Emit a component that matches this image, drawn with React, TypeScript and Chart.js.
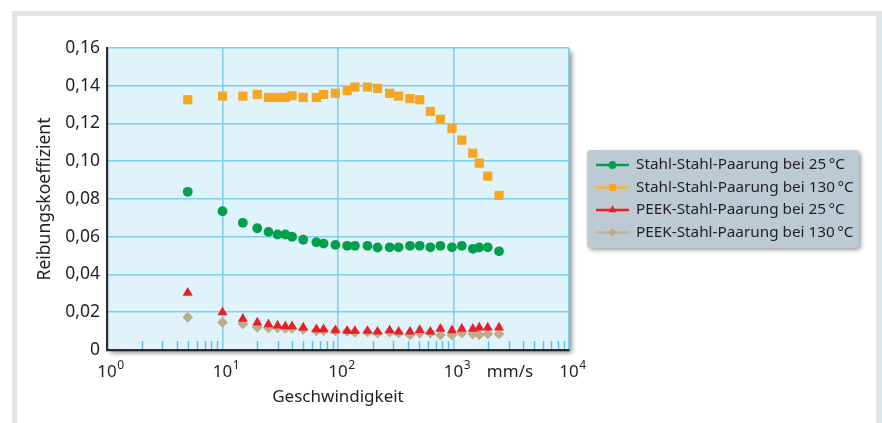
import React, { useEffect, useRef } from 'react';
import { Chart, registerables } from 'chart.js';

Chart.register(...registerables);

// ---------- data ----------
const speeds = [5, 10, 15, 20, 25, 30, 35, 40, 50, 65, 75, 95, 120, 140, 180, 220, 280, 335, 420, 510, 630, 770, 970, 1180, 1470, 1670, 1980, 2480];

const stahl25 = [0.0838, 0.0735, 0.0674, 0.0645, 0.0626, 0.0612, 0.0612, 0.06, 0.0584, 0.0571, 0.0564, 0.0557, 0.0552, 0.0552, 0.0552, 0.0543, 0.0544, 0.0544, 0.0552, 0.0552, 0.0544, 0.0552, 0.0544, 0.0552, 0.0536, 0.0543, 0.0544, 0.0523];

const stahl130 = [0.1326, 0.1345, 0.1345, 0.1354, 0.1338, 0.1338, 0.1338, 0.1347, 0.1338, 0.1338, 0.1354, 0.136, 0.1374, 0.1393, 0.1393, 0.1386, 0.136, 0.1345, 0.1332, 0.1326, 0.1264, 0.1222, 0.1174, 0.1112, 0.1043, 0.099, 0.0921, 0.0819];

const peek25 = [0.0303, 0.02, 0.0165, 0.0145, 0.0136, 0.0129, 0.0125, 0.0125, 0.0119, 0.011, 0.011, 0.0104, 0.0101, 0.0101, 0.0101, 0.0097, 0.0104, 0.0097, 0.0097, 0.0106, 0.0097, 0.0112, 0.0104, 0.0112, 0.0112, 0.0119, 0.0119, 0.0119];

const peek130 = [0.0173, 0.0146, 0.0138, 0.012, 0.0117, 0.0117, 0.0115, 0.0115, 0.0109, 0.0102, 0.0102, 0.0102, 0.0099, 0.0093, 0.0095, 0.009, 0.0095, 0.009, 0.008, 0.009, 0.009, 0.008, 0.008, 0.009, 0.0085, 0.008, 0.0085, 0.0085];

const seriesLabels = [
  'Stahl-Stahl-Paarung bei 25\u2009°C',
  'Stahl-Stahl-Paarung bei 130\u2009°C',
  'PEEK-Stahl-Paarung bei 25\u2009°C',
  'PEEK-Stahl-Paarung bei 130\u2009°C',
];

const xExponents = [0, 1, 2, 3, 4];
const xUnit = 'mm/s';
const xTitle = 'Geschwindigkeit';
const yTitle = 'Reibungskoeffizient';

// ---------- styles ----------
const FONT = '"Noto Sans", "Open Sans", sans-serif';
const TEXT = '#231f20';
const GRID = 'rgb(125,208,242)';
const MINOR = 'rgb(90,192,236)';
const PLOT_BG = 'rgb(224,242,250)';
const AXIS = '#2b2b2b';

const colors = ['rgb(0,160,76)', 'rgb(246,166,35)', 'rgb(232,30,40)', 'rgb(193,170,136)'];
const legendLine = ['rgb(0,160,76)', 'rgb(248,178,60)', 'rgb(232,30,40)', 'rgb(200,178,146)'];
const styles = ['circle', 'rect', 'triangle', 'rectRot'];
const radii = [4.9, 6.5, 5.8, 5.4];

function drawMarker(ctx: CanvasRenderingContext2D, style: string, x: number, y: number, r: number) {
  ctx.beginPath();
  if (style === 'circle') {
    ctx.arc(x, y, r, 0, Math.PI * 2);
  } else if (style === 'rect') {
    const s = r * Math.SQRT1_2;
    ctx.rect(x - s, y - s, 2 * s, 2 * s);
  } else if (style === 'triangle') {
    let a = 0;
    ctx.moveTo(x + Math.sin(a) * r, y - Math.cos(a) * r);
    a += (2 * Math.PI) / 3;
    ctx.lineTo(x + Math.sin(a) * r, y - Math.cos(a) * r);
    a += (2 * Math.PI) / 3;
    ctx.lineTo(x + Math.sin(a) * r, y - Math.cos(a) * r);
    ctx.closePath();
  } else {
    ctx.moveTo(x, y - r);
    ctx.lineTo(x + r, y);
    ctx.lineTo(x, y + r);
    ctx.lineTo(x - r, y);
    ctx.closePath();
  }
  ctx.fill();
}

const decorPlugin = {
  id: 'decor',
  beforeDraw(chart: any) {
    const { ctx, chartArea: a } = chart;
    ctx.save();
    ctx.fillStyle = '#ffffff';
    ctx.fillRect(0, 0, chart.width, chart.height);
    // outer frame (open at the bottom)
    ctx.fillStyle = 'rgb(221,228,234)';
    ctx.fillRect(12, 11, 870, 5);
    ctx.fillRect(12, 11, 5, 430);
    ctx.fillRect(876, 11, 6, 430);
    // plot background with drop shadow
    ctx.shadowColor = 'rgba(0,0,0,0.5)';
    ctx.shadowBlur = 5;
    ctx.shadowOffsetX = 2.5;
    ctx.shadowOffsetY = 2.5;
    ctx.fillStyle = PLOT_BG;
    ctx.fillRect(a.left, a.top, a.right - a.left, a.bottom - a.top);
    ctx.restore();
  },
  beforeDatasetsDraw(chart: any) {
    const { ctx, chartArea: a } = chart;
    const xs = chart.scales.x;
    ctx.save();
    ctx.strokeStyle = MINOR;
    ctx.lineWidth = 1.4;
    for (let e = 0; e < 4; e++) {
      for (let k = 2; k <= 9; k++) {
        const px = Math.round(xs.getPixelForValue(k * Math.pow(10, e))) + 0.5;
        ctx.beginPath();
        ctx.moveTo(px, a.bottom - 1);
        ctx.lineTo(px, a.bottom - 9);
        ctx.stroke();
      }
    }
    ctx.restore();
  },
  afterDraw(chart: any) {
    const { ctx, chartArea: a } = chart;
    const xs = chart.scales.x;
    ctx.save();
    ctx.fillStyle = TEXT;
    // x tick labels with superscripts
    const base = 376.5;
    ctx.textBaseline = 'alphabetic';
    ctx.textAlign = 'left';
    for (const e of xExponents) {
      const px = xs.getPixelForValue(Math.pow(10, e));
      ctx.font = `17px ${FONT}`;
      const w = ctx.measureText('10').width;
      ctx.fillText('10', px - w / 2, base);
      ctx.font = `12px ${FONT}`;
      ctx.fillText(String(e), px + w / 2 + 0.5, base - 8);
    }
    ctx.font = `17px ${FONT}`;
    ctx.textAlign = 'center';
    ctx.fillText(xUnit, 510, base);
    // axis titles
    ctx.textBaseline = 'middle';
    ctx.fillText(xTitle, (a.left + a.right) / 2, 397);
    ctx.save();
    ctx.translate(45, (a.top + a.bottom) / 2);
    ctx.rotate(-Math.PI / 2);
    ctx.font = `17.5px ${FONT}`;
    ctx.fillText(yTitle, 0, 0);
    ctx.restore();

    // legend box
    const bx = 587, by = 150, bw = 272, bh = 98;
    ctx.save();
    ctx.shadowColor = 'rgba(0,0,0,0.4)';
    ctx.shadowBlur = 4;
    ctx.shadowOffsetX = 2;
    ctx.shadowOffsetY = 2;
    ctx.fillStyle = 'rgb(188,203,211)';
    ctx.beginPath();
    (ctx as any).roundRect(bx, by, bw, bh, 4);
    ctx.fill();
    ctx.restore();

    chart.data.datasets.forEach((ds: any, i: number) => {
      const y = 165 + i * 22.5;
      ctx.strokeStyle = legendLine[i];
      ctx.lineWidth = 2.5;
      ctx.beginPath();
      ctx.moveTo(596, y);
      ctx.lineTo(629, y);
      ctx.stroke();
      ctx.fillStyle = colors[i];
      drawMarker(ctx, styles[i], 612.5, y, radii[i] * 0.8);
      ctx.fillStyle = TEXT;
      ctx.font = `15.3px ${FONT}`;
      ctx.textAlign = 'left';
      ctx.textBaseline = 'middle';
      ctx.fillText(ds.label, 636, y);
    });
    ctx.restore();
  },
};

const allSeries = [stahl25, stahl130, peek25, peek130];

export default function App() {
  const ref = useRef<HTMLCanvasElement>(null);
  useEffect(() => {
    const chart = new Chart(ref.current as HTMLCanvasElement, {
      type: 'scatter',
      data: {
        datasets: allSeries.map((vals, i) => ({
          label: seriesLabels[i],
          data: speeds.map((x, j) => ({ x, y: vals[j] })),
          pointStyle: styles[i] as any,
          pointRadius: radii[i],
          pointHoverRadius: radii[i],
          backgroundColor: colors[i],
          borderColor: colors[i],
          pointBorderWidth: 0,
          showLine: false,
        })),
      },
      options: {
        responsive: false,
        devicePixelRatio: 1,
        animation: false,
        layout: { padding: { left: 0, right: 313, top: 48, bottom: 0 } },
        plugins: {
          legend: { display: false },
          tooltip: { enabled: false },
        },
        scales: {
          x: {
            type: 'logarithmic',
            position: 'bottom',
            min: 1,
            max: 10000,
            afterBuildTicks: (s: any) => {
              const t: any[] = [];
              for (let e = 0; e < 4; e++) {
                for (let k = 1; k <= 9; k++) t.push({ value: k * Math.pow(10, e) });
              }
              t.push({ value: 10000 });
              s.ticks = t;
            },
            afterFit: (s: any) => { s.height = 73; },
            ticks: { display: false, autoSkip: false },
            grid: {
              drawTicks: false,
              lineWidth: 1.6,
              color: (c: any) => {
                const v = c.tick ? c.tick.value : 0;
                const l = Math.log10(v);
                return Math.abs(l - Math.round(l)) < 1e-9 ? GRID : 'rgba(0,0,0,0)';
              },
            },
            border: { display: true, color: AXIS, width: 2.2 },
          },
          y: {
            type: 'linear',
            min: 0,
            max: 0.16,
            afterFit: (s: any) => { s.width = 107; },
            ticks: {
              stepSize: 0.02,
              padding: 7,
              color: TEXT,
              font: { family: FONT, size: 17.5 },
              callback: (v: any) => (Number(v) === 0 ? '0' : Number(v).toFixed(2).replace('.', ',')),
            },
            grid: { drawTicks: false, color: GRID, lineWidth: 1.6 },
            border: { display: true, color: AXIS, width: 2.2 },
          },
        },
      },
      plugins: [decorPlugin],
    } as any);
    return () => chart.destroy();
  }, []);
  return (
    <div style={{ position: 'fixed', left: 0, top: 0, width: 882, height: 423, background: '#fff' }}>
      <canvas ref={ref} width={882} height={423} style={{ display: 'block', width: 882, height: 423 }} />
    </div>
  );
}
